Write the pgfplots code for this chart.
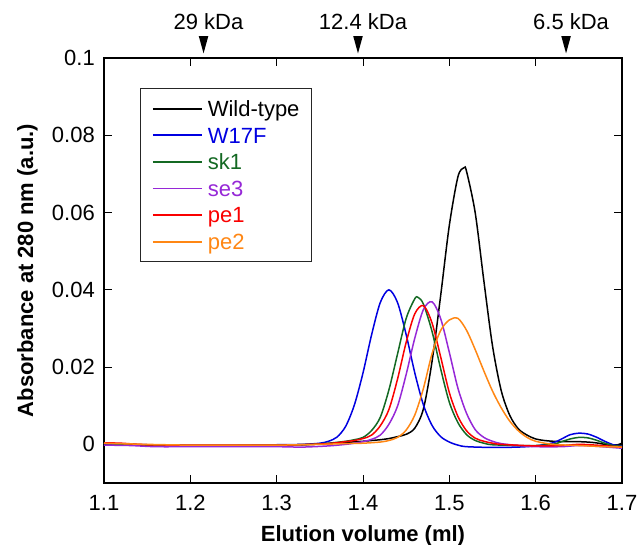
\documentclass[border=0pt]{standalone}
\usepackage{fontspec}
\setmainfont{Liberation Sans}
\usepackage{pgfplots}
\pgfplotsset{compat=1.18}

\definecolor{cwt}{RGB}{0,0,0}
\definecolor{cw17}{RGB}{0,0,225}
\definecolor{csk}{RGB}{20,105,35}
\definecolor{cse}{RGB}{150,40,215}
\definecolor{cpe1}{RGB}{250,0,0}
\definecolor{cpe2}{RGB}{255,135,20}

% narrow down-pointing triangle for the size markers
\pgfdeclareplotmark{ktri}{%
  \pgfpathmoveto{\pgfpoint{-4.8pt}{8.7pt}}%
  \pgfpathlineto{\pgfpoint{4.8pt}{8.7pt}}%
  \pgfpathlineto{\pgfpoint{0pt}{-8.7pt}}%
  \pgfpathclose\pgfusepathqfill}

\newcommand{\bigfont}{\fontsize{22}{25}\selectfont}

\begin{document}
\begin{tikzpicture}
\begin{axis}[
    name=ax,
    scale only axis,
    width=518pt, height=425pt,
    xmin=1.1, xmax=1.7,
    ymin=-0.01, ymax=0.1,
    xtick={1.1,1.2,1.3,1.4,1.5,1.6,1.7},
    xticklabels={1.1,1.2,1.3,1.4,1.5,1.6,1.7},
    ytick={0,0.02,0.04,0.06,0.08,0.1},
    yticklabels={0,0.02,0.04,0.06,0.08,0.1},
    tick align=inside,
    major tick length=8pt,
    tick style={black, line width=0.9pt},
    axis line style={line width=1.2pt},
    every tick label/.append style={font=\bigfont},
    xticklabel style={anchor=north, inner sep=0pt, yshift=-12pt},
    yticklabel style={anchor=east, inner sep=0pt, xshift=-9pt},
    xlabel={Elution volume (ml)},
    ylabel={Absorbance at 280 nm (a.u.)},
    label style={font=\bigfont\bfseries},
    xlabel style={at={(axis description cs:0.5,-0.1376)}, anchor=base},
    ylabel style={at={(axis description cs:-0.137,0.5)}, anchor=base},
    clip=false,
    legend style={
        at={(axis description cs:0.0695,0.929)}, anchor=north west,
        draw=black!85, line width=1pt,
        font=\bigfont,
        inner xsep=11.5pt, inner ysep=9.7pt,
        row sep=6pt, column sep=5pt,
        nodes={inner xsep=0pt, inner ysep=0pt, text height=18.2pt, text depth=2.4pt, text width=92.5pt},
    },
    legend cell align=left,
    legend image code/.code={\draw[#1, line width=1.8pt] (0pt,0pt) -- (49pt,0pt);},
]

% Wild-type
\addplot[cwt, line width=1.5pt, smooth] coordinates {
(1.10,0.0003)(1.12,0.0001)(1.15,-0.0002)(1.20,-0.0003)(1.25,-0.0003)(1.30,-0.0002)
(1.33,-0.0001)(1.36,0.0002)(1.38,0.0005)(1.40,0.0008)(1.41,0.0010)(1.42,0.0012)
(1.43,0.0015)(1.44,0.0020)(1.45,0.0026)(1.46,0.0042)(1.47,0.0092)(1.48,0.0215)
(1.49,0.0386)(1.50,0.0567)(1.51,0.0693)(1.517,0.0716)(1.52,0.0706)(1.53,0.0599)
(1.54,0.0423)(1.55,0.0255)(1.56,0.0140)(1.57,0.0075)(1.58,0.0040)(1.59,0.0024)
(1.60,0.0014)(1.61,0.0010)(1.62,0.0008)(1.63,0.0007)(1.64,0.0007)(1.65,0.0007)
(1.66,0.0006)(1.67,0.0004)(1.68,0.0000)(1.69,-0.0004)(1.70,0.0003)
};
\addlegendentry[text=cwt]{Wild-type}

% W17F
\addplot[cw17, line width=1.5pt, smooth] coordinates {
(1.10,0.0002)(1.15,-0.0001)(1.20,-0.0002)(1.25,-0.0002)(1.30,-0.0001)(1.33,0.0000)
(1.35,0.0003)(1.36,0.0008)(1.37,0.0019)(1.38,0.0047)(1.39,0.0102)(1.40,0.0185)
(1.41,0.0284)(1.42,0.0367)(1.43,0.0400)(1.44,0.0367)(1.45,0.0284)(1.46,0.0185)
(1.47,0.0102)(1.48,0.0049)(1.49,0.0020)(1.50,0.0006)(1.51,-0.0002)(1.52,-0.0006)
(1.55,-0.0008)(1.58,-0.0007)(1.60,-0.0004)(1.62,0.0004)(1.63,0.0014)(1.64,0.0025)
(1.65,0.0029)(1.66,0.0027)(1.67,0.0019)(1.68,0.0008)(1.69,-0.0001)(1.70,-0.0004)
};
\addlegendentry[text=cw17]{W17F}

% sk1
\addplot[csk, line width=1.5pt, smooth] coordinates {
(1.10,0.0002)(1.15,-0.0002)(1.20,-0.0003)(1.25,-0.0003)(1.30,-0.0002)(1.34,0.0000)
(1.36,0.0003)(1.38,0.0008)(1.39,0.0012)(1.40,0.0018)(1.41,0.0036)(1.42,0.0070)
(1.43,0.0141)(1.44,0.0234)(1.45,0.0326)(1.46,0.0377)(1.464,0.0380)(1.47,0.0363)
(1.48,0.0292)(1.49,0.0195)(1.50,0.0109)(1.51,0.0056)(1.52,0.0025)(1.53,0.0010)
(1.54,0.0003)(1.55,-0.0001)(1.58,-0.0003)(1.60,-0.0003)(1.62,0.0000)(1.63,0.0007)
(1.64,0.0014)(1.65,0.0018)(1.66,0.0017)(1.67,0.0011)(1.68,0.0003)(1.69,-0.0003)
(1.70,-0.0005)
};
\addlegendentry[text=csk]{sk1}

% se3
\addplot[cse, line width=1.5pt, smooth] coordinates {
(1.10,-0.0002)(1.13,-0.0003)(1.16,-0.0006)(1.20,-0.0006)(1.25,-0.0006)(1.30,-0.0006)
(1.33,-0.0007)(1.36,-0.0004)(1.38,0.0000)(1.39,0.0003)(1.40,0.0007)(1.41,0.0013)
(1.42,0.0024)(1.43,0.0052)(1.44,0.0099)(1.45,0.0181)(1.46,0.0275)(1.47,0.0349)
(1.48,0.0369)(1.49,0.0325)(1.50,0.0238)(1.51,0.0145)(1.52,0.0080)(1.53,0.0038)
(1.54,0.0018)(1.55,0.0008)(1.56,0.0002)(1.58,-0.0003)(1.60,-0.0006)(1.63,-0.0006)
(1.65,-0.0003)(1.67,-0.0005)(1.70,-0.0010)
};
\addlegendentry[text=cse]{se3}

% pe1
\addplot[cpe1, line width=1.5pt, smooth] coordinates {
(1.10,0.0004)(1.12,0.0003)(1.15,-0.0001)(1.20,-0.0002)(1.25,-0.0002)(1.30,-0.0002)
(1.34,0.0000)(1.36,0.0002)(1.38,0.0007)(1.39,0.0010)(1.40,0.0015)(1.41,0.0024)
(1.42,0.0048)(1.43,0.0090)(1.44,0.0169)(1.45,0.0264)(1.46,0.0338)(1.47,0.0359)
(1.48,0.0314)(1.49,0.0226)(1.50,0.0134)(1.51,0.0072)(1.52,0.0035)(1.53,0.0016)
(1.54,0.0008)(1.55,0.0003)(1.56,0.0000)(1.60,-0.0004)(1.63,-0.0003)(1.65,0.0000)
(1.67,-0.0002)(1.70,-0.0007)
};
\addlegendentry[text=cpe1]{pe1}

% pe2
\addplot[cpe2, line width=1.5pt, smooth] coordinates {
(1.10,0.0003)(1.15,0.0000)(1.20,-0.0002)(1.25,-0.0002)(1.30,-0.0002)(1.35,0.0000)
(1.38,0.0002)(1.40,0.0003)(1.42,0.0006)(1.43,0.0010)(1.44,0.0018)(1.45,0.0037)
(1.46,0.0076)(1.47,0.0145)(1.48,0.0235)(1.49,0.0295)(1.50,0.0322)(1.51,0.0326)
(1.52,0.0295)(1.53,0.0245)(1.54,0.0190)(1.55,0.0138)(1.56,0.0095)(1.57,0.0060)
(1.58,0.0035)(1.59,0.0018)(1.60,0.0008)(1.62,0.0000)(1.65,-0.0003)(1.68,-0.0006)
(1.70,-0.0007)
};
\addlegendentry[text=cpe2]{pe2}

% molecular weight markers above the axis
\addplot[only marks, mark=ktri, black, forget plot,
    point meta=explicit symbolic, nodes near coords,
    every node near coord/.style={anchor=base, yshift=15.4pt, xshift=5pt, font=\bigfont, text=black}]
coordinates {
(1.2153,0.10344) [29 kDa]
(1.3942,0.10344) [12.4 kDa]
(1.6352,0.10344) [6.5 kDa]
};

\end{axis}
\pgfresetboundingbox
\path ([xshift=-104pt,yshift=-62pt]ax.south west) rectangle ([xshift=22pt,yshift=58pt]ax.north east);
\end{tikzpicture}
\end{document}
